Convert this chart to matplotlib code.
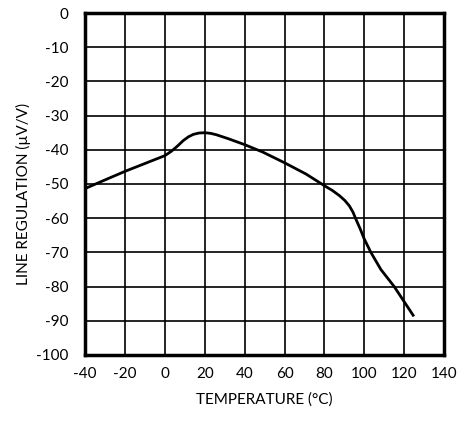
import matplotlib
matplotlib.use("Agg")
import matplotlib.pyplot as plt

# Line regulation vs temperature
temp_c = [-39.5, -30, -20, -10, 0, 3.3, 6.5, 9.2, 11.8, 14.2, 17, 20, 23, 25.8, 32, 40, 49.2,
          60, 70.8, 80, 84, 87.5, 90.2, 92.5, 94.3, 95.8, 98, 100, 103.3, 108.3, 115, 124.5]
line_reg = [-51.2, -48.8, -46.3, -44.0, -41.7, -40.4, -38.8, -37.3, -36.2, -35.5, -35.1, -35.0,
            -35.2, -35.6, -36.8, -38.5, -40.7, -43.8, -47.1, -50.5, -51.9, -53.4, -54.8,
            -56.4, -58.2, -60.3, -63.2, -66.1, -70.0, -75.0, -80.0, -88.4]

x_ticks = list(range(-40, 141, 20))
y_ticks = list(range(-100, 1, 10))

plt.rcParams['font.family'] = ['Lato', 'DejaVu Sans']
plt.rcParams['axes.unicode_minus'] = False

fig = plt.figure(figsize=(4.63, 4.21), dpi=100)
ax = fig.add_axes([0.184, 0.157, 0.775, 0.812])

ax.plot(temp_c, line_reg, color="black", linewidth=2, solid_joinstyle="round")

ax.set_xlim(-40, 140)
ax.set_ylim(-100, 0)
ax.set_xticks(x_ticks)
ax.set_yticks(y_ticks)
ax.grid(True, color="black", linewidth=1.2)
ax.tick_params(length=0, labelsize=11)
ax.tick_params(axis="x", pad=9)
ax.tick_params(axis="y", pad=12)
for s in ax.spines.values():
    s.set_linewidth(2.5)

ax.set_xlabel("TEMPERATURE (°C)", fontsize=11, labelpad=8)
ax.set_ylabel("LINE REGULATION (µV/V)", fontsize=11)
ax.yaxis.set_label_coords(-0.15, 0.47)

fig.savefig("out.png", dpi=100)
